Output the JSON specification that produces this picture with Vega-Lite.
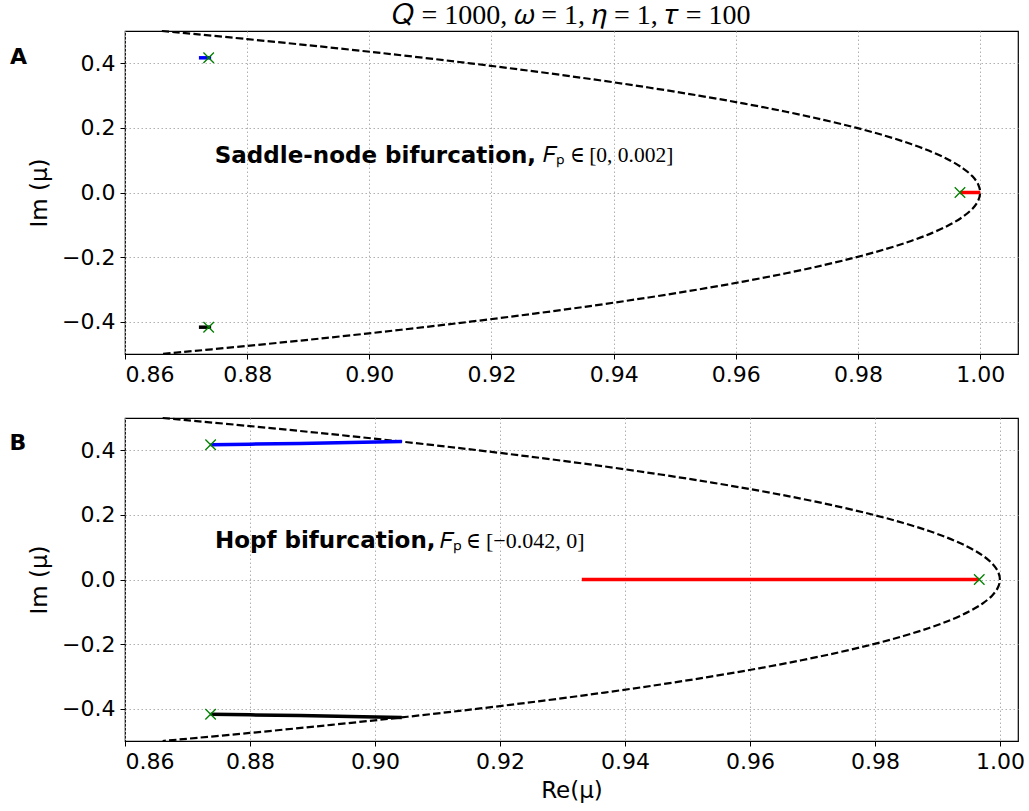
{
  "$schema": "https://vega.github.io/schema/vega-lite/v6.json",
  "background": "white",
  "padding": {"left": 9, "top": 1, "right": 0, "bottom": 0},
  "spacing": 27,
  "config": {
    "font": "DejaVu Sans",
    "view": {"stroke": "black", "strokeWidth": 1.2},
    "axis": {
      "domain": false,
      "grid": true,
      "gridColor": "#b0b0b0",
      "gridDash": [1.5, 2.5],
      "gridWidth": 1,
      "tickColor": "black",
      "tickSize": 5,
      "tickWidth": 1,
      "labelFont": "DejaVu Sans",
      "labelFontSize": 22,
      "labelColor": "black",
      "labelPadding": 5,
      "titleFont": "DejaVu Sans",
      "titleFontSize": 23,
      "titleFontWeight": "normal",
      "titleColor": "black"
    },
    "legend": {"disable": true}
  },
  "datasets": {
    "unitCircle": [
      {"re": 0.866025, "im": 0.5},
      {"re": 0.879986, "im": 0.475},
      {"re": 0.893029, "im": 0.45},
      {"re": 0.905193, "im": 0.425},
      {"re": 0.916515, "im": 0.4},
      {"re": 0.927025, "im": 0.375},
      {"re": 0.93675, "im": 0.35},
      {"re": 0.945714, "im": 0.325},
      {"re": 0.953939, "im": 0.3},
      {"re": 0.961444, "im": 0.275},
      {"re": 0.968246, "im": 0.25},
      {"re": 0.974359, "im": 0.225},
      {"re": 0.979796, "im": 0.2},
      {"re": 0.984568, "im": 0.175},
      {"re": 0.988686, "im": 0.15},
      {"re": 0.992157, "im": 0.125},
      {"re": 0.994987, "im": 0.1},
      {"re": 0.997184, "im": 0.075},
      {"re": 0.998749, "im": 0.05},
      {"re": 0.999687, "im": 0.025},
      {"re": 1.0, "im": 0.0},
      {"re": 0.999687, "im": -0.025},
      {"re": 0.998749, "im": -0.05},
      {"re": 0.997184, "im": -0.075},
      {"re": 0.994987, "im": -0.1},
      {"re": 0.992157, "im": -0.125},
      {"re": 0.988686, "im": -0.15},
      {"re": 0.984568, "im": -0.175},
      {"re": 0.979796, "im": -0.2},
      {"re": 0.974359, "im": -0.225},
      {"re": 0.968246, "im": -0.25},
      {"re": 0.961444, "im": -0.275},
      {"re": 0.953939, "im": -0.3},
      {"re": 0.945714, "im": -0.325},
      {"re": 0.93675, "im": -0.35},
      {"re": 0.927025, "im": -0.375},
      {"re": 0.916515, "im": -0.4},
      {"re": 0.905193, "im": -0.425},
      {"re": 0.893029, "im": -0.45},
      {"re": 0.879986, "im": -0.475},
      {"re": 0.866025, "im": -0.5}
    ],
    "startEigen": [
      {"re": 0.8737, "im": 0.417},
      {"re": 0.8737, "im": -0.417},
      {"re": 0.9967, "im": 0.0}
    ],
    "pathSaddle": [
      {"branch": "upper", "re": 0.8721, "im": 0.417},
      {"branch": "upper", "re": 0.8741, "im": 0.417},
      {"branch": "lower", "re": 0.8721, "im": -0.417},
      {"branch": "lower", "re": 0.8741, "im": -0.417},
      {"branch": "real", "re": 0.9967, "im": 0.0},
      {"branch": "real", "re": 1.0, "im": 0.0}
    ],
    "pathHopf": [
      {"branch": "upper", "re": 0.8737, "im": 0.417},
      {"branch": "upper", "re": 0.88, "im": 0.419},
      {"branch": "upper", "re": 0.888, "im": 0.421},
      {"branch": "upper", "re": 0.896, "im": 0.424},
      {"branch": "upper", "re": 0.9043, "im": 0.427},
      {"branch": "lower", "re": 0.8737, "im": -0.417},
      {"branch": "lower", "re": 0.88, "im": -0.419},
      {"branch": "lower", "re": 0.888, "im": -0.421},
      {"branch": "lower", "re": 0.896, "im": -0.424},
      {"branch": "lower", "re": 0.9043, "im": -0.427},
      {"branch": "real", "re": 0.9331, "im": 0.0},
      {"branch": "real", "re": 0.9967, "im": 0.0}
    ]
  },
  "vconcat": [
    {
      "width": 893,
      "height": 323,
      "title": {
        "text": "𝑄 = 1000, 𝜔 = 1, 𝜂 = 1, 𝜏 = 100",
        "font": "Liberation Serif",
        "fontSize": 28,
        "fontWeight": "normal",
        "color": "black",
        "anchor": "middle",
        "frame": "group",
        "offset": -3
      },
      "layer": [
        {
          "data": {"name": "unitCircle"},
          "mark": {"type": "line", "color": "black", "strokeWidth": 2.2, "strokeDash": [7.4, 3.2], "interpolate": "catmull-rom"},
          "encoding": {
            "x": {"field": "re", "type": "quantitative", "scale": {"domain": [0.86, 1.0062], "nice": false, "zero": false}, "axis": {"values": [0.86, 0.88, 0.9, 0.92, 0.94, 0.96, 0.98, 1.0], "format": ".2f", "title": null}},
            "y": {"field": "im", "type": "quantitative", "scale": {"domain": [-0.5, 0.5], "nice": false}, "axis": {"values": [-0.4, -0.2, 0, 0.2, 0.4], "format": ".1f", "title": "Im (μ)", "titlePadding": 10}},
            "order": {"field": "im", "type": "quantitative", "sort": "descending"}
          }
        },
        {
          "data": {"name": "pathSaddle"},
          "mark": {"type": "line", "strokeWidth": 3.5},
          "encoding": {
            "x": {"field": "re", "type": "quantitative"},
            "y": {"field": "im", "type": "quantitative"},
            "color": {"field": "branch", "type": "nominal", "scale": {"domain": ["upper", "lower", "real"], "range": ["#0000ff", "#000000", "#ff0000"]}}
          }
        },
        {
          "data": {"name": "startEigen"},
          "mark": {"type": "point", "shape": "M-1,-1L1,1M-1,1L1,-1", "filled": false, "stroke": "#008000", "strokeWidth": 1.3, "size": 110, "opacity": 1},
          "encoding": {
            "x": {"field": "re", "type": "quantitative"},
            "y": {"field": "im", "type": "quantitative"}
          }
        },
        {
          "data": {"values": [{"re": 0.8747, "im": 0.112, "txt": "Saddle-node bifurcation,"}]},
          "mark": {"type": "text", "align": "left", "baseline": "middle", "font": "DejaVu Sans", "fontWeight": "bold", "fontSize": 23, "color": "black"},
          "encoding": {
            "x": {"field": "re", "type": "quantitative"},
            "y": {"field": "im", "type": "quantitative"},
            "text": {"field": "txt"}
          }
        },
        {
          "data": {"values": [{"re": 0.9285, "im": 0.112, "txt": "𝐹ₚ ∈ [0, 0.002]"}]},
          "mark": {"type": "text", "align": "left", "baseline": "middle", "font": "Liberation Serif", "fontSize": 21.5, "color": "black"},
          "encoding": {
            "x": {"field": "re", "type": "quantitative"},
            "y": {"field": "im", "type": "quantitative"},
            "text": {"field": "txt"}
          }
        },
        {
          "data": {"values": [{"re": 0.84257, "im": 0.42, "txt": "A"}]},
          "mark": {"type": "text", "align": "center", "baseline": "middle", "font": "DejaVu Sans", "fontWeight": "bold", "fontSize": 22, "color": "black"},
          "encoding": {
            "x": {"field": "re", "type": "quantitative"},
            "y": {"field": "im", "type": "quantitative"},
            "text": {"field": "txt"}
          }
        }
      ]
    },
    {
      "width": 893,
      "height": 323,
      "layer": [
        {
          "data": {"name": "unitCircle"},
          "mark": {"type": "line", "color": "black", "strokeWidth": 2.2, "strokeDash": [7.4, 3.2], "interpolate": "catmull-rom"},
          "encoding": {
            "x": {"field": "re", "type": "quantitative", "scale": {"domain": [0.86, 1.0029], "nice": false, "zero": false}, "axis": {"values": [0.86, 0.88, 0.9, 0.92, 0.94, 0.96, 0.98, 1.0], "format": ".2f", "title": "Re(μ)", "titlePadding": 7}},
            "y": {"field": "im", "type": "quantitative", "scale": {"domain": [-0.5, 0.5], "nice": false}, "axis": {"values": [-0.4, -0.2, 0, 0.2, 0.4], "format": ".1f", "title": "Im (μ)", "titlePadding": 10}},
            "order": {"field": "im", "type": "quantitative", "sort": "descending"}
          }
        },
        {
          "data": {"name": "pathHopf"},
          "mark": {"type": "line", "strokeWidth": 3.5},
          "encoding": {
            "x": {"field": "re", "type": "quantitative"},
            "y": {"field": "im", "type": "quantitative"},
            "color": {"field": "branch", "type": "nominal", "scale": {"domain": ["upper", "lower", "real"], "range": ["#0000ff", "#000000", "#ff0000"]}}
          }
        },
        {
          "data": {"name": "startEigen"},
          "mark": {"type": "point", "shape": "M-1,-1L1,1M-1,1L1,-1", "filled": false, "stroke": "#008000", "strokeWidth": 1.3, "size": 110, "opacity": 1},
          "encoding": {
            "x": {"field": "re", "type": "quantitative"},
            "y": {"field": "im", "type": "quantitative"}
          }
        },
        {
          "data": {"values": [{"re": 0.8744, "im": 0.12, "txt": "Hopf bifurcation,"}]},
          "mark": {"type": "text", "align": "left", "baseline": "middle", "font": "DejaVu Sans", "fontWeight": "bold", "fontSize": 23, "color": "black"},
          "encoding": {
            "x": {"field": "re", "type": "quantitative"},
            "y": {"field": "im", "type": "quantitative"},
            "text": {"field": "txt"}
          }
        },
        {
          "data": {"values": [{"re": 0.9104, "im": 0.12, "txt": "𝐹ₚ ∈ [−0.042, 0]"}]},
          "mark": {"type": "text", "align": "left", "baseline": "middle", "font": "Liberation Serif", "fontSize": 22, "color": "black"},
          "encoding": {
            "x": {"field": "re", "type": "quantitative"},
            "y": {"field": "im", "type": "quantitative"},
            "text": {"field": "txt"}
          }
        },
        {
          "data": {"values": [{"re": 0.84288, "im": 0.4217, "txt": "B"}]},
          "mark": {"type": "text", "align": "center", "baseline": "middle", "font": "DejaVu Sans", "fontWeight": "bold", "fontSize": 22, "color": "black"},
          "encoding": {
            "x": {"field": "re", "type": "quantitative"},
            "y": {"field": "im", "type": "quantitative"},
            "text": {"field": "txt"}
          }
        }
      ]
    }
  ],
  "resolve": {"scale": {"x": "independent", "y": "independent"}}
}
